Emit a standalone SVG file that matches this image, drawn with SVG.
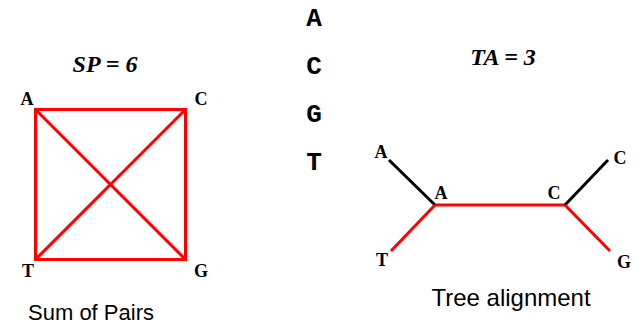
<svg xmlns="http://www.w3.org/2000/svg" width="635" height="325" viewBox="0 0 635 325">
<style>
.lbl{font-family:"Liberation Serif",serif;font-weight:bold;font-size:18px;fill:#000}
.ttl{font-family:"Liberation Serif",serif;font-weight:bold;font-style:italic;font-size:24px;fill:#000}
.seq{font-family:"Courier New","Liberation Mono",monospace;font-weight:bold;font-size:26px;fill:#000}
.cap{font-family:"Liberation Sans",sans-serif;font-size:22px;fill:#000}
.cap2{font-family:"Liberation Sans",sans-serif;font-size:24px;fill:#000}
.red{stroke:#ff0000;stroke-width:3;fill:none}
.blk{stroke:#000;stroke-width:3;fill:none}
</style>
<rect width="635" height="325" fill="#fff"/>
<g id="sp-title"><text class="ttl" x="105" y="72" text-anchor="middle">SP = 6</text></g>
<g id="connectors-sp">
<rect class="red" x="35.5" y="109.5" width="150" height="150"/>
<line class="red" x1="35.5" y1="109.5" x2="185.5" y2="259.5"/>
<line class="red" x1="185.5" y1="109.5" x2="35.5" y2="259.5"/>
</g>
<g id="sp-A"><text class="lbl" x="27" y="105" text-anchor="middle">A</text></g>
<g id="sp-C"><text class="lbl" x="201" y="105" text-anchor="middle">C</text></g>
<g id="sp-T"><text class="lbl" x="28" y="277" text-anchor="middle">T</text></g>
<g id="sp-G"><text class="lbl" x="201" y="277" text-anchor="middle">G</text></g>
<text class="cap" x="91" y="320" text-anchor="middle">Sum of Pairs</text>
<g id="seqs">
<text class="seq" x="314" y="26" text-anchor="middle">A</text>
<text class="seq" x="314" y="74" text-anchor="middle">C</text>
<text class="seq" x="314" y="122" text-anchor="middle">G</text>
<text class="seq" x="314" y="170" text-anchor="middle">T</text>
</g>
<g id="ta-title"><text class="ttl" x="503" y="65" text-anchor="middle">TA = 3</text></g>
<g id="connectors-tree">
<line class="blk" x1="389" y1="160" x2="435" y2="205"/>
<line class="red" x1="391" y1="251" x2="435" y2="205"/>
<line class="red" x1="435" y1="205" x2="565" y2="205"/>
<line class="blk" x1="565" y1="205" x2="608" y2="160"/>
<line class="red" x1="565" y1="205" x2="610" y2="251"/>
</g>
<g id="tree-A-leaf"><text class="lbl" x="381" y="158" text-anchor="middle">A</text></g>
<g id="tree-A-int"><text class="lbl" x="441" y="199" text-anchor="middle">A</text></g>
<g id="tree-C-int"><text class="lbl" x="554" y="199" text-anchor="middle">C</text></g>
<g id="tree-C-leaf"><text class="lbl" x="620" y="164" text-anchor="middle">C</text></g>
<g id="tree-T"><text class="lbl" x="382" y="266" text-anchor="middle">T</text></g>
<g id="tree-G"><text class="lbl" x="624" y="268" text-anchor="middle">G</text></g>
<text class="cap2" x="511" y="306" text-anchor="middle">Tree alignment</text>
</svg>
